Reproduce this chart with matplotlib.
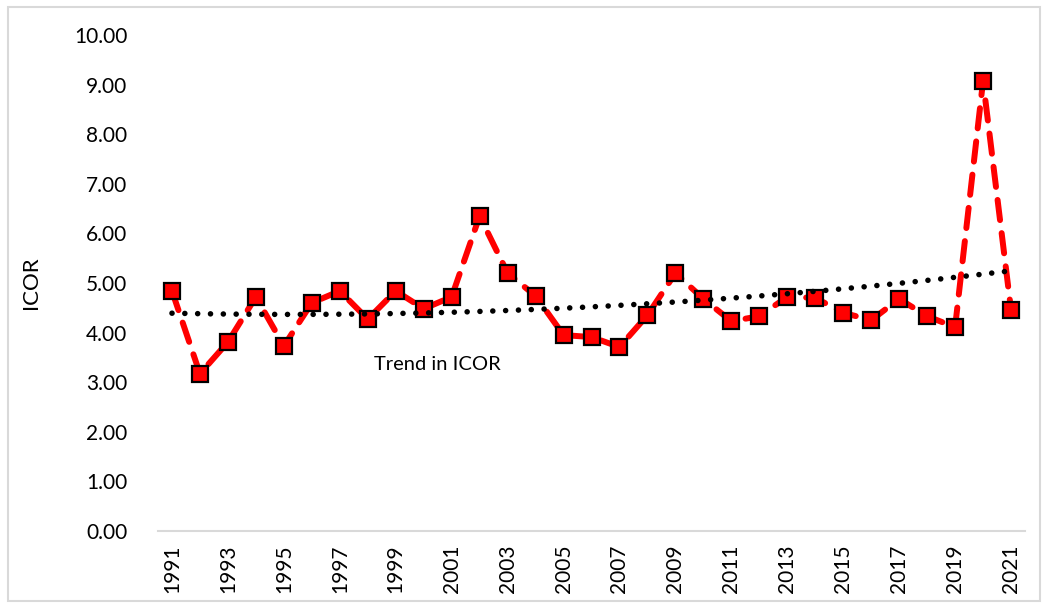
import numpy as np
import matplotlib
matplotlib.use("Agg")
import matplotlib.pyplot as plt
from matplotlib.patches import Rectangle

years = list(range(1991, 2022))
icor = [4.84, 3.17, 3.81, 4.72, 3.73, 4.60, 4.84, 4.27, 4.84, 4.48,
        4.72, 6.35, 5.20, 4.74, 3.95, 3.91, 3.71, 4.35, 5.20, 4.68,
        4.23, 4.33, 4.72, 4.70, 4.40, 4.25, 4.68, 4.33, 4.11, 9.07, 4.46]
yticks = [0, 1, 2, 3, 4, 5, 6, 7, 8, 9, 10]
xtick_labels = [str(y) for y in years[::2]]

plt.rcParams['font.family'] = ['Lato', 'DejaVu Sans']

W, H = 1043, 607
fig = plt.figure(figsize=(W / 100, H / 100), dpi=100)
fig.patches.append(Rectangle((8 / W, 6 / H), (1040 - 8) / W, (600 - 6) / H,
                             transform=fig.transFigure, fill=False,
                             edgecolor='#d9d9d9', linewidth=1.5))
ax = fig.add_axes([158 / W, 1 - 531 / H, (1025 - 158) / W, (531 - 35) / H])

x = np.arange(len(years))
# Excel-style polynomial (order 2) trendline fitted on the data
coef = np.polyfit(x, icor, 2)
xt = np.linspace(0, len(years) - 1, 300)
ax.plot(xt, np.polyval(coef, xt), color='black', lw=4.0,
        linestyle=(0, (0.01, 2.3)), dash_capstyle='round',
        solid_capstyle='round', zorder=4)

ax.plot(x, icor, color='#ff0000', lw=4.3, dashes=(3.4, 2.2),
        dash_capstyle='round', marker='s', markersize=11,
        markerfacecolor='#ff0000', markeredgecolor='black',
        markeredgewidth=1.6, zorder=3)

ax.text(9.5, 3.35, 'Trend in ICOR', ha='center', va='center', fontsize=14.5)

ax.set_xlim(-0.5, len(years) - 0.5)
ax.set_ylim(0, 10)
ax.set_yticks(yticks)
ax.set_yticklabels([f'{v:.2f}' for v in yticks], fontsize=15)
ax.set_xticks(x[::2])
ax.set_xticklabels(xtick_labels, rotation=90, fontsize=15)
ax.set_ylabel('ICOR', fontsize=16)
ax.yaxis.set_label_coords(-0.135, 0.5)

for s in ['top', 'right', 'left']:
    ax.spines[s].set_visible(False)
ax.spines['bottom'].set_color('#d9d9d9')
ax.spines['bottom'].set_linewidth(1.5)
ax.tick_params(axis='both', length=0)
ax.tick_params(axis='x', pad=10)
ax.tick_params(axis='y', pad=22)

fig.savefig('out.png', dpi=100, facecolor='white')
